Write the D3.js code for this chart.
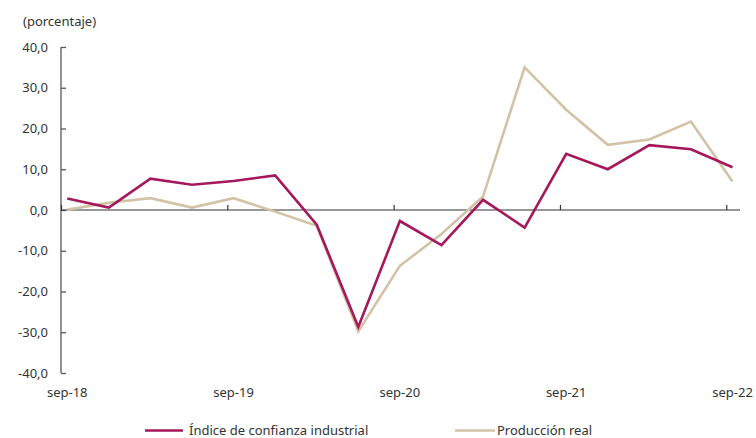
<!DOCTYPE html>
<html>
<head>
<meta charset="utf-8">
<script src="https://cdn.jsdelivr.net/npm/d3@7/dist/d3.min.js"></script>
<style>
  html, body { margin: 0; padding: 0; background: #fff; }
  svg text { font-family: "Noto Sans", "Open Sans", sans-serif; fill: #333; }
</style>
</head>
<body>
<svg id="chart" width="756" height="438"></svg>
<script>
const categories = ["sep-18","dic-18","mar-19","jun-19","sep-19","dic-19","mar-20","jun-20",
  "sep-20","dic-20","mar-21","jun-21","sep-21","dic-21","mar-22","jun-22","sep-22"];
const confianza = [2.8, 0.6, 7.7, 6.2, 7.1, 8.5, -3.6, -28.7, -2.7, -8.6, 2.5, -4.3, 13.8, 10.0, 15.9, 14.9, 10.5];
const produccion = [0.1, 1.8, 2.9, 0.6, 2.9, -0.4, -3.9, -29.8, -13.7, -5.9, 3.3, 35.0, 24.6, 16.0, 17.3, 21.7, 7.0];
const yTicks = [-40, -30, -20, -10, 0, 10, 20, 30, 40];
const xLabelIdx = [0, 4, 8, 12, 16];
const seriesNames = ["Índice de confianza industrial", "Producción real"];
const colors = ["#A5185B", "#D2C3A7"];

const svg = d3.select("#chart");
const x = d3.scaleLinear().domain([-0.15, 16.18]).range([61, 740]);
const y = d3.scaleLinear().domain([-40, 40]).range([373, 47]);
const fmt = v => d3.format(".1f")(v).replace(".", ",").replace("−", "-");

// Y axis
const yAxis = svg.append("g").attr("transform", "translate(61,0)")
  .call(d3.axisRight(y).tickValues(yTicks).tickSize(5).tickFormat(""));
yAxis.select(".domain").attr("stroke", "#595959").attr("stroke-width", 1.3).attr("d", `M0,${y(40)}V${y(-40)}`);
yAxis.selectAll(".tick line").attr("stroke", "#595959").attr("stroke-width", 1.3);
svg.append("g").selectAll("text").data(yTicks).join("text")
  .attr("x", 48).attr("y", d => y(d)).attr("dy", "0.35em")
  .attr("text-anchor", "end").style("font-size", "13px").text(fmt);

// X axis at zero
const xAxis = svg.append("g").attr("transform", `translate(0,${y(0)})`)
  .call(d3.axisTop(x).tickValues(xLabelIdx.map(i => i - 0.15)).tickSize(5).tickFormat(""));
xAxis.select(".domain").attr("stroke", "#333").attr("stroke-width", 1.2).attr("d", `M61,0H740`);
xAxis.selectAll(".tick line").attr("stroke", "#333").attr("stroke-width", 1.2);
svg.append("g").selectAll("text").data(xLabelIdx).join("text")
  .attr("x", i => x(i)).attr("y", 397).attr("text-anchor", "middle")
  .style("font-size", "13px").text(i => categories[i]);

// Unit label
svg.append("text").attr("x", 23).attr("y", 26).style("font-size", "13px").text("(porcentaje)");

// Lines
const line = d3.line().x((d, i) => x(i)).y(d => y(d));
[produccion, confianza].forEach((s, k) => {
  svg.append("path").datum(s).attr("fill", "none")
    .attr("stroke", k === 0 ? colors[1] : colors[0])
    .attr("stroke-width", 2.6).attr("stroke-linejoin", "miter").attr("d", line);
});

// Legend
const legend = [{x1: 145, x2: 183, tx: 189}, {x1: 455, x2: 495, tx: 497}];
legend.forEach((l, k) => {
  svg.append("line").attr("x1", l.x1).attr("x2", l.x2).attr("y1", 430.5).attr("y2", 430.5)
    .attr("stroke", colors[k]).attr("stroke-width", 2.6);
  svg.append("text").attr("x", l.tx).attr("y", 435).style("font-size", "13px").text(seriesNames[k]);
});
</script>
</body>
</html>
